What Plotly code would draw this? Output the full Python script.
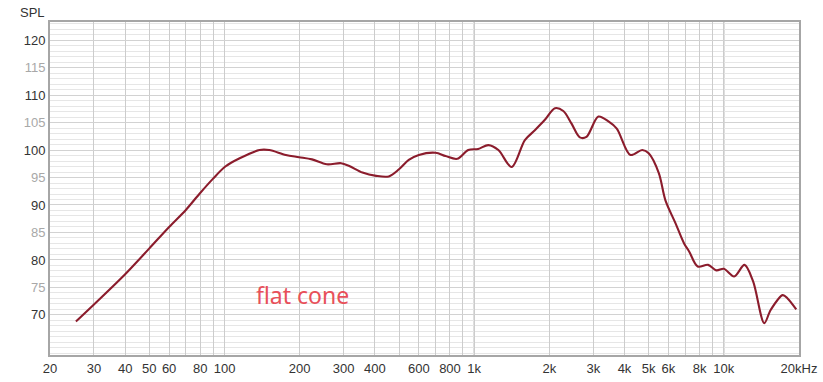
import plotly.graph_objects as go

# ---- data ----
freq_hz = [25.4, 30, 40, 50, 60, 70, 79.6, 90, 100.8, 115, 138, 151, 176, 199, 224, 257, 293, 316,
           357, 405, 455, 500, 547, 600, 700, 768, 855, 947, 1038, 1140, 1250, 1413, 1596, 1750,
           1920, 2107, 2275, 2455, 2650, 2817, 3145, 3450, 3725, 4225, 4710, 5000, 5490, 5830,
           6400, 6930, 7270, 7860, 8650, 9340, 10000, 11000, 12100, 13100, 14520, 15400, 17210,
           18000, 19500]
spl_db = [68.8, 71.9, 77.4, 82.1, 86.0, 89.1, 92.1, 94.8, 97.0, 98.5, 100.0, 100.0, 99.1, 98.7,
          98.3, 97.4, 97.6, 97.1, 95.9, 95.3, 95.2, 96.5, 98.2, 99.1, 99.5, 98.9, 98.4, 100.0,
          100.2, 100.9, 100.0, 96.9, 101.8, 103.6, 105.5, 107.6, 107.1, 104.8, 102.3, 102.4,
          106.1, 105.2, 103.9, 99.1, 100.0, 99.4, 95.8, 90.9, 86.7, 83.0, 81.5, 78.8, 79.1,
          78.1, 78.4, 77.0, 79.1, 76.1, 68.5, 70.9, 73.6, 73.0, 71.0]

x_grid_vals = [20, 30, 40, 50, 60, 70, 80, 90, 100, 200, 300, 400, 500, 600, 700, 800, 900,
               1000, 2000, 3000, 4000, 5000, 6000, 7000, 8000, 9000, 10000, 20000]
x_grid_text = ["20", "30", "40", "50", "60", "", "80", "", "100", "200", "300", "400", "", "600",
               "", "800", "", "1k", "2k", "3k", "4k", "5k", "6k", "", "8k", "", "10k", "20kHz"]
decade_lines = [100, 1000, 10000]

y_tick_vals = [70, 75, 80, 85, 90, 95, 100, 105, 110, 115, 120]

y_tick_text = [str(v) if v % 10 == 0 else f'<span style="color:#a8a8a8">{v}</span>'
               for v in y_tick_vals]

fig = go.Figure()
fig.add_trace(go.Scatter(
    x=freq_hz, y=spl_db, mode="lines",
    line=dict(color="#8b1c2c", width=2.1, shape="spline", smoothing=0.9),
    showlegend=False, hoverinfo="skip"))

shapes = [dict(type="line", xref="x", yref="paper", x0=v, x1=v, y0=0, y1=1,
               line=dict(color="#9a9a9a", width=1), layer="below") for v in decade_lines]

fig.update_layout(
    width=823, height=382, autosize=False,
    margin=dict(l=50, r=24, t=22, b=27, pad=0, autoexpand=False),
    paper_bgcolor="white", plot_bgcolor="white",
    font=dict(family="Liberation Sans, Arial, sans-serif", size=13, color="#333333"),
    shapes=shapes,
    xaxis=dict(type="log", range=[1.30103, 4.30103], automargin=False,
               tickvals=x_grid_vals, ticktext=x_grid_text, ticks="",
               showgrid=True, gridcolor="#cccccc", gridwidth=1,
               showline=True, linecolor="#a6a6a6", linewidth=2, mirror=True,
               zeroline=False, tickfont=dict(size=13, color="#333333")),
    yaxis=dict(range=[62.7, 123.3], tickvals=y_tick_vals, ticktext=y_tick_text, ticks="",
               automargin=False,
               showgrid=True, gridcolor="#d2d2d2", gridwidth=1,
               minor=dict(dtick=1, showgrid=True, gridcolor="#e6e6e6", gridwidth=1),
               showline=True, linecolor="#a6a6a6", linewidth=2, mirror=True,
               zeroline=False, tickfont=dict(size=13, color="#333333")),
    annotations=[
        dict(text="SPL", xref="paper", yref="paper", x=0, y=1, xshift=-18, yshift=10,
             xanchor="center", yanchor="middle", showarrow=False,
             font=dict(size=13, color="#333333")),
        dict(text="flat cone", xref="x", yref="y", x=2.312, y=73.6,
             xanchor="center", yanchor="middle", showarrow=False,
             font=dict(family="Noto Sans, sans-serif", size=23, color="#e8505a")),
    ],
)

fig.write_html("out.html")
